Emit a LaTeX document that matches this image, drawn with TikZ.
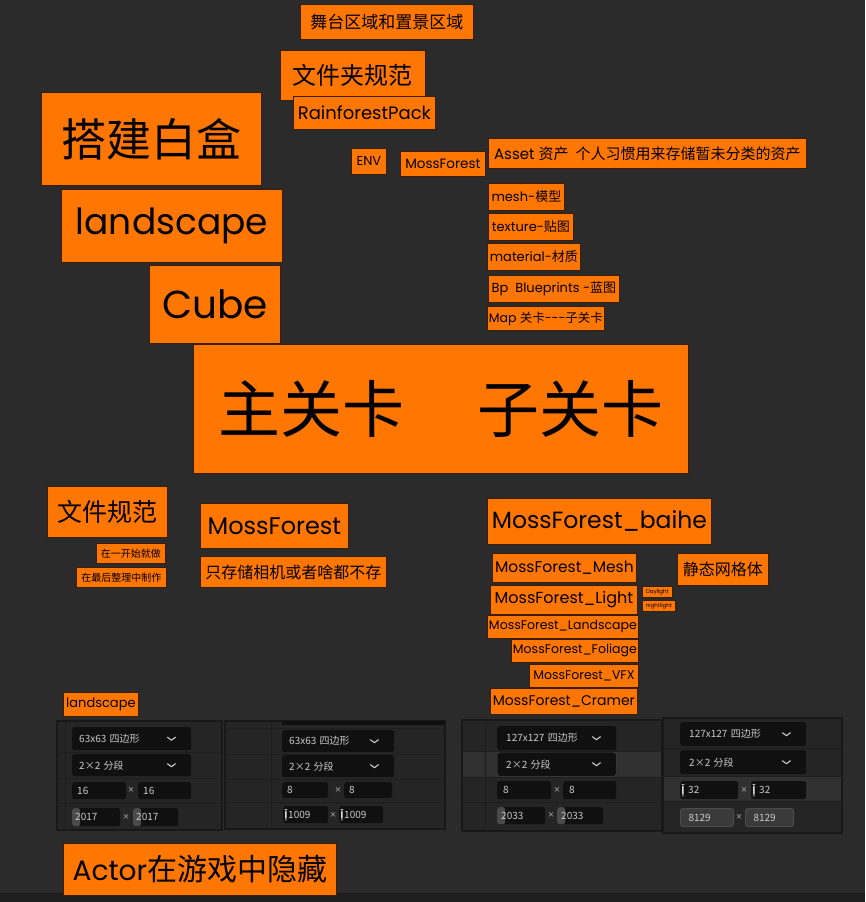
\documentclass[tikz,border=0pt]{standalone}
\usepackage{fontspec}
\setmainfont{Poppins}
\newfontfamily\cjk{Noto Sans CJK SC}
\definecolor{bg}{HTML}{2B2B2B}
\definecolor{tagorange}{HTML}{FF7600}
\definecolor{tagline}{HTML}{3E1C00}
\definecolor{panelbg}{HTML}{252525}
\definecolor{panelline}{HTML}{181818}
\definecolor{rowline}{HTML}{1D1D1D}
\definecolor{rowhi}{HTML}{313131}
\definecolor{fieldbg}{HTML}{101010}
\definecolor{fieldtext}{HTML}{CACACA}
\definecolor{thumbgrey}{HTML}{4A4A4A}
\definecolor{lightfield}{HTML}{3A3A3A}
\definecolor{barbg}{HTML}{1E1E1E}
\tikzset{
    tag/.style={draw=tagline, fill=tagorange, line width=0.8pt, inner sep=0pt, anchor=north west, text=black},
    sz/.style 2 args={minimum width=#1pt, minimum height=#2pt},
    field/.style 2 args={fill=fieldbg, rounded corners=2.5pt, inner sep=0pt, anchor=north west,
        minimum width=#1pt, minimum height=#2pt, text width=#1pt, align=left,
        text=fieldtext, font=\cjk\fontsize{10}{10}\selectfont},
    times/.style={text=fieldtext!70, inner sep=0pt, font=\cjk\fontsize{7}{7}\selectfont},
    chevline/.style={draw=fieldtext, line width=1.1pt, line cap=round, line join=round},
    panel/.style={fill=panelbg, draw=panelline, line width=1.5pt},
    thumb/.style={path picture={\fill[thumbgrey] (path picture bounding box.north west) rectangle ([xshift=8pt]path picture bounding box.south west);}},
    slim/.style={path picture={\fill[fieldtext!60] ([xshift=2pt,yshift=-3pt]path picture bounding box.north west) rectangle ([xshift=3.5pt,yshift=3pt]path picture bounding box.south west);}},
    light/.style={fill=lightfield, draw=thumbgrey, line width=1pt}
}
\newcommand{\chev}[1]{\draw[chevline] ([xshift=-24pt,yshift=1.5pt]#1.east) -- ++(4,3) -- ++(4,-3);}

\begin{document}
\begin{tikzpicture}[x=1pt,y=-1pt]
    \fill[bg] (0,0) rectangle (865,902);
    \useasboundingbox (0,0) rectangle (865,902);
    \fill[barbg] (0,893) rectangle (865,902);
    \draw[panelline] (0,893) -- (865,893);

    % top tags
    \node[tag,sz={173}{35},font=\cjk\fontsize{17}{17}\selectfont] (stage) at (300,4) {舞台区域和置景区域};
    \node[tag,sz={145}{50},font=\cjk\fontsize{24}{24}\selectfont] (folder) at (280,50) {文件夹规范};
    \node[tag,sz={142}{33},font=\fontsize{18}{18}\selectfont] (rainforest) at (293,96) {RainforestPack};
    \node[tag,sz={35}{26},font=\fontsize{13}{13}\selectfont] (env) at (351,148) {ENV};
    \node[tag,sz={85}{25},font=\fontsize{13.5}{13.5}\selectfont] (mossenv) at (400,151) {MossForest};
    \node[tag,sz={318}{30},font=\fontsize{15}{15}\selectfont] (asset) at (488,138) {Asset {\cjk 资产\hspace{7pt}个人习惯用来存储暂未分类的资产}};
    \node[tag,sz={76}{27},font=\fontsize{13}{13}\selectfont] (meshtag) at (488,183) {mesh-{\cjk 模型}};
    \node[tag,sz={85}{27},font=\fontsize{13}{13}\selectfont] (texturetag) at (488,213) {texture-{\cjk 贴图}};
    \node[tag,sz={93}{27},font=\fontsize{13}{13}\selectfont] (materialtag) at (487,243) {material-{\cjk 材质}};
    \node[tag,sz={131}{27},font=\fontsize{13}{13}\selectfont] (bptag) at (488,275) {Bp\ \ Blueprints -{\cjk 蓝图}};
    \node[tag,sz={117}{24},font=\fontsize{12.5}{12.5}\selectfont] (maptag) at (487,306) {Map {\cjk 关卡}-{}-{}-{\cjk 子关卡}};

    % big tags
    \node[tag,sz={220}{93},font=\cjk\fontsize{45}{45}\selectfont] (whitebox) at (41,92) {搭建白盒};
    \node[tag,sz={221}{73},font=\fontsize{36}{36}\selectfont] (landbig) at (61,189) {landscape};
    \node[tag,sz={131}{78},font=\fontsize{39}{39}\selectfont] (cube) at (149,265) {Cube};
    \node[tag,sz={495}{129},font=\cjk\fontsize{62}{62}\selectfont] (levels) at (193,344) {主关卡\hspace{73pt}子关卡};

    % file rules
    \node[tag,sz={120}{51},font=\cjk\fontsize{25}{25}\selectfont] (filespec) at (47,486) {文件规范};
    \node[tag,sz={69}{20},font=\cjk\fontsize{10}{10}\selectfont] (early) at (96,543) {在一开始就做};
    \node[tag,sz={90}{20},font=\cjk\fontsize{10}{10}\selectfont] (late) at (76,567) {在最后整理中制作};
    \node[tag,sz={148}{45},font=\fontsize{24}{24}\selectfont] (mossmid) at (200,503) {MossForest};
    \node[tag,sz={186}{31},font=\cjk\fontsize{16}{16}\selectfont] (camonly) at (200,556) {只存储相机或者啥都不存};

    % sublevels
    \node[tag,sz={224}{46},font=\fontsize{23.5}{23.5}\selectfont] (baihe) at (487,498) {MossForest\_baihe};
    \node[tag,sz={144}{29},font=\fontsize{15.5}{15.5}\selectfont] (mesh) at (492,553) {MossForest\_Mesh};
    \node[tag,sz={91}{32},font=\cjk\fontsize{16}{16}\selectfont] (static) at (677,553) {静态网格体};
    \node[tag,sz={147}{29},font=\fontsize{16}{16}\selectfont] (light) at (490,585) {MossForest\_Light};
    \node[tag,sz={30}{11},font=\fontsize{5.5}{5.5}\selectfont] (day) at (642,586) {Daylight};
    \node[tag,sz={33}{11},font=\fontsize{5.5}{5.5}\selectfont] (night) at (642,600) {nightlight};
    \node[tag,sz={151}{23},font=\fontsize{12.5}{12.5}\selectfont] (landmf) at (487,615) {MossForest\_Landscape};
    \node[tag,sz={127}{23},font=\fontsize{12.5}{12.5}\selectfont] (foliage) at (511,639) {MossForest\_Foliage};
    \node[tag,sz={109}{23},font=\fontsize{12.5}{12.5}\selectfont] (vfx) at (529,664) {MossForest\_VFX};
    \node[tag,sz={147}{26},font=\fontsize{14}{14}\selectfont] (cramer) at (490,688) {MossForest\_Cramer};

    \node[tag,sz={75}{24},font=\fontsize{13}{13}\selectfont] (landsmall) at (63,692) {landscape};
    \node[tag,sz={273}{52},font=\fontsize{28}{28}\selectfont] (actor) at (63,843) {Actor{\cjk\fontsize{30}{30}\selectfont 在游戏中隐藏}};

    % panel A
    \draw[panel] (57,721) rectangle (222,830);
    \draw[rowline] (65,721) -- (65,830);
    \foreach \y in {752,778,803} \draw[rowline] (57,\y) -- (222,\y);
    \node[field={119}{23}] (a1) at (72,727) {\hspace*{7pt}63x63 四边形};
    \chev{a1}
    \node[field={119}{22}] (a2) at (72,754) {\hspace*{7pt}2×2 分段};
    \chev{a2}
    \node[field={54}{17}] (a3) at (72,782) {\hspace*{5pt}16};
    \node[times] (ax1) at (131,790) {×};
    \node[field={53}{17}] (a4) at (138,782) {\hspace*{5pt}16};
    \node[field={48}{18},thumb] (a5) at (72,808) {\hspace*{3pt}2017};
    \node[times] (ax2) at (126,817) {×};
    \node[field={45}{18},thumb] (a6) at (133,808) {\hspace*{3pt}2017};

    % panel B
    \draw[panel] (225,721) rectangle (445,829);
    \fill[fieldbg] (282,721) rectangle (445,725);
    \draw[rowline] (271,721) -- (271,829);
    \foreach \y in {728,754,779,802} \draw[rowline] (225,\y) -- (445,\y);
    \node[field={112}{22}] (b1) at (282,730) {\hspace*{7pt}63x63 四边形};
    \chev{b1}
    \node[field={112}{22}] (b2) at (282,755) {\hspace*{7pt}2×2 分段};
    \chev{b2}
    \node[field={46}{16}] (b3) at (282,782) {\hspace*{5pt}8};
    \node[times] (bx1) at (338,790) {×};
    \node[field={48}{16}] (b4) at (344,782) {\hspace*{5pt}8};
    \node[field={45}{17},slim] (b5) at (283,806) {\hspace*{5pt}1009};
    \node[times] (bx2) at (333,815) {×};
    \node[field={44}{17},slim] (b6) at (339,806) {\hspace*{5pt}1009};

    % panel C
    \draw[panel] (462,720) rectangle (662,831);
    \fill[rowhi] (463,751) rectangle (661,777);
    \draw[rowline] (485,720) -- (485,831);
    \foreach \y in {751,777,802} \draw[rowline] (462,\y) -- (662,\y);
    \node[field={119}{24}] (c1) at (497,726) {\hspace*{9pt}127x127 四边形};
    \chev{c1}
    \node[field={119}{24},draw=thumbgrey] (c2) at (497,752) {\hspace*{9pt}2×2 分段};
    \chev{c2}
    \node[field={54}{18}] (c3) at (497,781) {\hspace*{6pt}8};
    \node[times] (cx1) at (557,790) {×};
    \node[field={53}{18}] (c4) at (563,781) {\hspace*{6pt}8};
    \node[field={48}{17},thumb] (c5) at (497,807) {\hspace*{4pt}2033};
    \node[times] (cx2) at (551,815) {×};
    \node[field={46}{17},thumb] (c6) at (557,807) {\hspace*{4pt}2033};

    % panel D
    \draw[panel] (663,718) rectangle (842,833);
    \fill[rowhi] (664,776) rectangle (841,801);
    \foreach \y in {748,776,801} \draw[rowline] (663,\y) -- (842,\y);
    \node[field={126}{24}] (d1) at (680,722) {\hspace*{9pt}127x127 四边形};
    \chev{d1}
    \node[field={126}{24}] (d2) at (680,750) {\hspace*{9pt}2×2 分段};
    \chev{d2}
    \node[field={58}{18},slim] (d3) at (680,781) {\hspace*{8pt}32};
    \node[times] (dx1) at (744,790) {×};
    \node[field={55}{18},slim] (d4) at (751,781) {\hspace*{8pt}32};
    \node[field={53}{18},light] (d5) at (680,808) {\hspace*{8pt}8129};
    \node[times] (dx2) at (739,817) {×};
    \node[field={48}{18},light] (d6) at (745,808) {\hspace*{8pt}8129};
\end{tikzpicture}
\end{document}
